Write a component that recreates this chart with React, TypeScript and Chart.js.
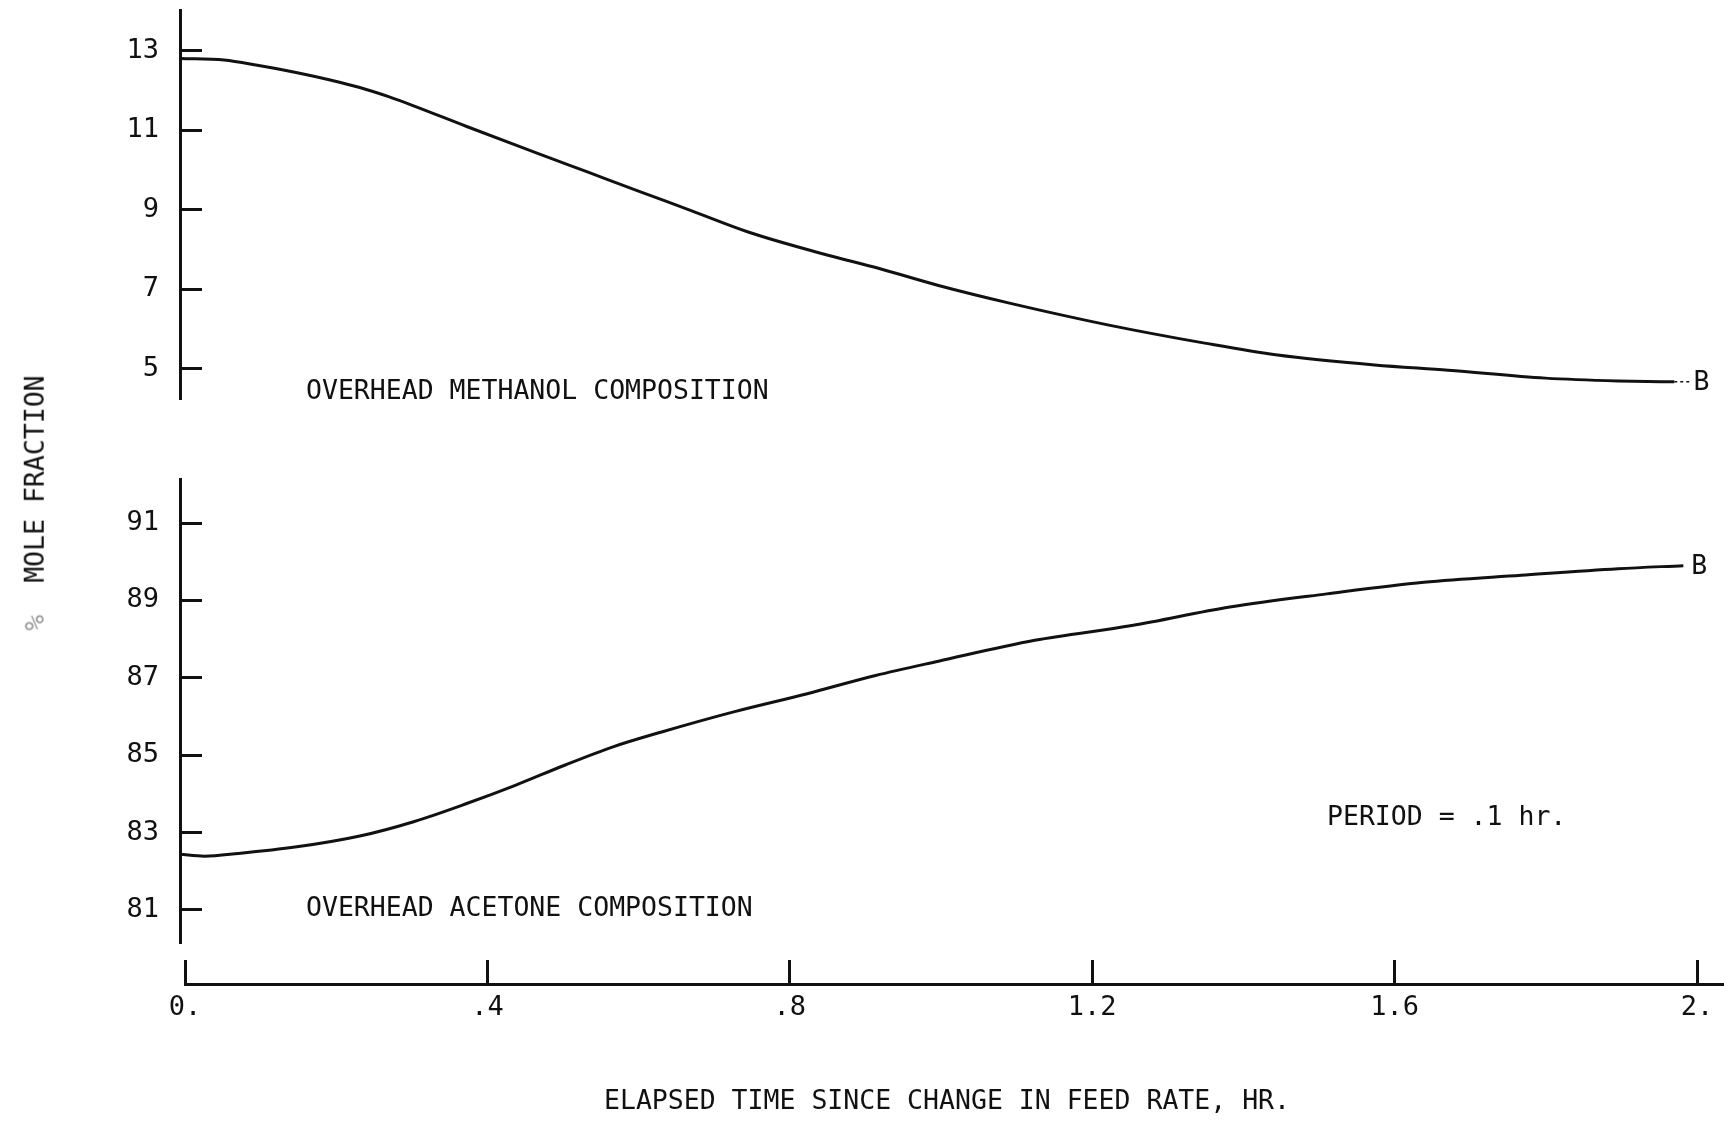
import React, { useEffect, useRef } from 'react';
import { Chart, registerables } from 'chart.js';

Chart.register(...registerables);

// ---------------- data ----------------
const methanolTime = [0, 0.058, 0.102, 0.153, 0.198, 0.237, 0.275, 0.308, 0.378, 0.468, 0.538, 0.608, 0.673, 0.75, 0.847, 0.923, 1.0, 1.095, 1.223, 1.351, 1.447, 1.575, 1.672, 1.8, 1.896, 1.97, 1.99];
const methanolPct = [12.81, 12.77, 12.64, 12.46, 12.27, 12.08, 11.85, 11.62, 11.1, 10.45, 9.95, 9.45, 8.99, 8.44, 7.9, 7.52, 7.1, 6.65, 6.11, 5.65, 5.35, 5.1, 4.97, 4.77, 4.7, 4.68, 4.68];

const acetoneTime = [0, 0.032, 0.077, 0.154, 0.237, 0.308, 0.378, 0.442, 0.507, 0.57, 0.635, 0.73, 0.827, 0.917, 1.0, 1.127, 1.255, 1.384, 1.512, 1.64, 1.768, 1.896, 1.982];
const acetonePct = [82.44, 82.39, 82.46, 82.63, 82.91, 83.28, 83.75, 84.22, 84.74, 85.21, 85.6, 86.12, 86.59, 87.06, 87.43, 87.97, 88.35, 88.83, 89.17, 89.47, 89.65, 89.82, 89.9];

const methanolTicks = [5, 7, 9, 11, 13];
const acetoneTicks = [81, 83, 85, 87, 89, 91];
const xTickValues = [0, 0.4, 0.8, 1.2, 1.6, 2.0];
const xTickLabels = ['0.', '.4', '.8', '1.2', '1.6', '2.'];

const endLabel = 'B';
const methanolTitle = 'OVERHEAD METHANOL COMPOSITION';
const acetoneTitle = 'OVERHEAD ACETONE COMPOSITION';
const periodNote = 'PERIOD = .1 hr.';
const xTitle = 'ELAPSED TIME SINCE CHANGE IN FEED RATE, HR.';
const yTitlePct = '%';
const yTitle = 'MOLE FRACTION';

// ---------------- style ----------------
const FONT = '"DejaVu Sans Mono", "Liberation Mono", monospace';
const INK = '#111111';
const FS = 26.5;

const endLabelPlugin = {
  id: 'endLabel',
  afterDatasetsDraw(chart: any, _args: any, opts: any) {
    if (!opts || !opts.text) return;
    const meta = chart.getDatasetMeta(0);
    const pts = meta.data;
    if (!pts || !pts.length) return;
    const last = pts[pts.length - 1];
    const ctx = chart.ctx;
    ctx.save();
    ctx.font = `${FS}px ${FONT}`;
    ctx.fillStyle = INK;
    ctx.textAlign = 'left';
    ctx.textBaseline = 'middle';
    ctx.fillText(opts.text, last.x + (opts.dx || 0), last.y + (opts.dy || 0));
    ctx.restore();
  },
};

function yAxis(min: number, max: number, ticks: number[]) {
  return {
    type: 'linear',
    position: 'left',
    min,
    max,
    afterBuildTicks: (s: any) => {
      s.ticks = ticks.map((v) => ({ value: v }));
    },
    afterFit: (s: any) => {
      s.width = 180;
      s.paddingTop = 0;
      s.paddingBottom = 0;
    },
    border: { display: true, color: INK, width: 3 },
    grid: {
      display: true,
      drawOnChartArea: false,
      drawTicks: true,
      tickLength: -22,
      tickWidth: 3,
      tickColor: INK,
      color: INK,
      lineWidth: 3,
    },
    ticks: {
      color: INK,
      font: { family: FONT, size: 27 },
      padding: 43,
      callback: (v: any) => String(v),
    },
  };
}

function lineChartConfig(xs: number[], ys: number[], yMin: number, yMax: number, ticks: number[], padding: any, labelOpts: any, dashLast: boolean) {
  const n = xs.length;
  return {
    type: 'line',
    data: {
      datasets: [
        {
          data: xs.map((x, i) => ({ x, y: ys[i] })),
          borderColor: INK,
          borderWidth: 3,
          pointRadius: 0,
          fill: false,
          cubicInterpolationMode: 'monotone',
          segment: dashLast
            ? {
                borderDash: (ctx: any) => (ctx.p1DataIndex === n - 1 ? [3, 3] : undefined),
                borderWidth: (ctx: any) => (ctx.p1DataIndex === n - 1 ? 1.5 : undefined),
              }
            : undefined,
        },
      ],
    },
    options: {
      animation: false,
      responsive: false,
      layout: { padding },
      plugins: { legend: { display: false }, tooltip: { enabled: false }, endLabel: labelOpts },
      scales: {
        x: { type: 'linear', min: 0, max: 2, display: false },
        y: yAxis(yMin, yMax, ticks),
      },
    },
    plugins: [endLabelPlugin],
  };
}

function xAxisConfig() {
  return {
    type: 'line',
    data: { datasets: [] },
    options: {
      animation: false,
      responsive: false,
      layout: { padding: { left: 185, right: 0, top: 10, bottom: 0 } },
      plugins: { legend: { display: false }, tooltip: { enabled: false } },
      scales: {
        x: {
          type: 'linear',
          position: 'bottom',
          min: 0,
          max: 2.0357,
          afterBuildTicks: (s: any) => {
            s.ticks = xTickValues.map((v) => ({ value: v }));
          },
          afterFit: (s: any) => {
            s.height = 137;
          },
          border: { display: true, color: INK, width: 3 },
          grid: { display: true, color: INK, lineWidth: 3, drawTicks: false, drawOnChartArea: true },
          ticks: {
            color: INK,
            font: { family: FONT, size: 27 },
            padding: 8,
            maxRotation: 0,
            autoSkip: false,
            callback: (_v: any, i: number) => xTickLabels[i],
          },
        },
        y: { type: 'linear', display: false, min: 0, max: 1 },
      },
    },
  };
}

function useChart(ref: React.RefObject<HTMLCanvasElement | null>, makeConfig: () => any) {
  useEffect(() => {
    if (!ref.current) return;
    const chart = new Chart(ref.current, makeConfig());
    return () => chart.destroy();
  }, []);
}

const textStyle = (left: number, top: number): React.CSSProperties => ({
  position: 'absolute',
  left,
  top,
  fontFamily: FONT,
  fontSize: FS,
  lineHeight: `${FS}px`,
  color: INK,
  whiteSpace: 'pre',
});

export default function App() {
  const topRef = useRef<HTMLCanvasElement>(null);
  const botRef = useRef<HTMLCanvasElement>(null);
  const axRef = useRef<HTMLCanvasElement>(null);

  useChart(topRef, () =>
    lineChartConfig(methanolTime, methanolPct, 4.27, 14.03, methanolTicks, { left: 0, top: 10, right: 27, bottom: 42 }, { text: endLabel, dx: 4, dy: 1 }, true)
  );
  useChart(botRef, () =>
    lineChartConfig(acetoneTime, acetonePct, 80.17, 92.14, acetoneTicks, { left: 0, top: 39, right: 27, bottom: 8 }, { text: endLabel, dx: 8, dy: 1 }, false)
  );
  useChart(axRef, xAxisConfig);

  return (
    <div style={{ position: 'fixed', left: 0, top: 0, width: 1724, height: 1121, background: '#fff', overflow: 'hidden' }}>
      <canvas ref={topRef} width={1724} height={440} style={{ position: 'absolute', left: 0, top: 0 }} />
      <canvas ref={botRef} width={1724} height={510} style={{ position: 'absolute', left: 0, top: 440 }} />
      <canvas ref={axRef} width={1724} height={171} style={{ position: 'absolute', left: 0, top: 950 }} />

      <div style={textStyle(306, 377)}>{methanolTitle}</div>
      <div style={textStyle(306, 894)}>{acetoneTitle}</div>
      <div style={textStyle(1327, 803)}>{periodNote}</div>
      <div style={{ ...textStyle(0, 1087), left: 947, transform: 'translateX(-50%)' }}>{xTitle}</div>
      <div
        style={{
          ...textStyle(35, 503),
          transform: 'translate(-50%, -50%) rotate(-90deg)',
        }}
      >
        <span style={{ color: '#9a9a9a' }}>{yTitlePct}</span>
        {'  '}
        {yTitle}
      </div>
    </div>
  );
}
